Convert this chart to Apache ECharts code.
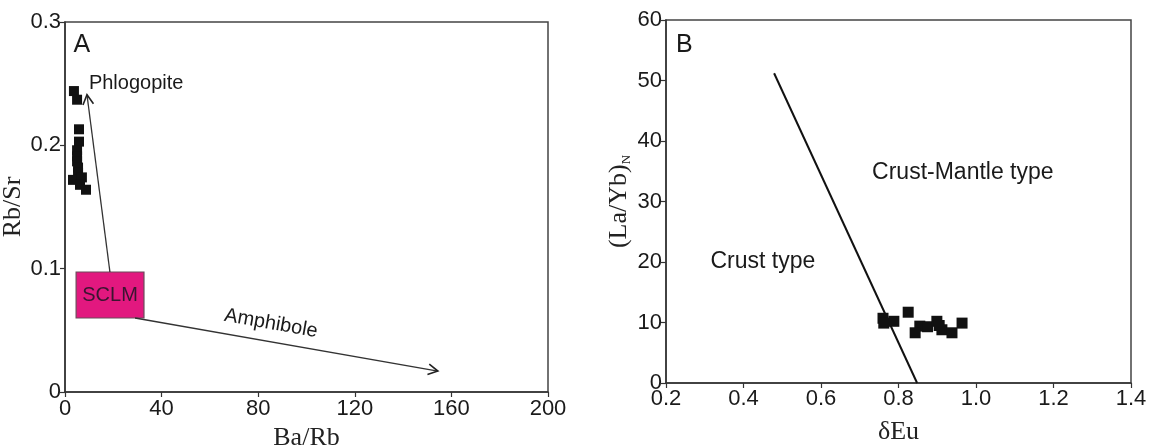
<!DOCTYPE html>
<html>
<head>
<meta charset="utf-8">
<script src="https://cdn.jsdelivr.net/npm/echarts@6/dist/echarts.min.js"></script>
<style>
html,body{margin:0;padding:0;background:#fff;}
#chart{width:1150px;height:448px;}
</style>
</head>
<body>
<div id="chart"></div>
<script>
// ---------- Panel A data: Ba/Rb vs Rb/Sr ----------
const ticksAX = [0, 40, 80, 120, 160, 200];
const ticksAY = [0, 0.1, 0.2, 0.3];
const samplesA_BaRb = [3.7, 5.0, 5.8, 5.8, 5.0, 5.0, 5.0, 5.4, 5.4, 3.3, 7.0, 6.2, 8.7];
const samplesA_RbSr = [0.244, 0.237, 0.213, 0.203, 0.196, 0.191, 0.187, 0.182, 0.178, 0.172, 0.174, 0.168, 0.164];
// SCLM field [x1, y1, x2, y2]
const sclmBox = [4.6, 0.0973, 32.7, 0.060];
// vectors [xStart, yStart, xEnd, yEnd]
const phlogopiteVector = [18.6, 0.0973, 9.1, 0.241];
const amphiboleVector = [29, 0.060, 154.4, 0.017];

// ---------- Panel B data: dEu vs (La/Yb)N ----------
const ticksBX = [0.2, 0.4, 0.6, 0.8, 1.0, 1.2, 1.4];
const ticksBY = [0, 10, 20, 30, 40, 50, 60];
const samplesB_dEu = [0.760, 0.762, 0.788, 0.825, 0.855, 0.843, 0.875, 0.899, 0.912, 0.938, 0.964, 0.905];
const samplesB_LaYbN = [10.7, 9.9, 10.2, 11.7, 9.4, 8.3, 9.3, 10.2, 8.8, 8.3, 9.9, 9.5];
// crust / crust-mantle boundary
const boundaryDEu = [0.479, 0.848];
const boundaryLaYb = [51.2, 0];

// ---------- annotation texts (anchored in data coordinates) ----------
const notesA = [
  {text: 'A', at: [3.5, 0.281], size: 25, align: 'left', rot: 0},
  {text: 'Phlogopite', at: [9.9, 0.250], size: 20, align: 'left', rot: 0},
  {text: 'Amphibole', at: [85.3, 0.0555], size: 20, align: 'center', rot: -10}
];
const notesB = [
  {text: 'B', at: [0.226, 55.9], size: 25, align: 'left', rot: 0},
  {text: 'Crust-Mantle type', at: [0.966, 34.7], size: 23, align: 'center', rot: 0},
  {text: 'Crust type', at: [0.45, 20.0], size: 23, align: 'center', rot: 0}
];

const SANS = '"Liberation Sans", Arial, Helvetica, sans-serif';
const SERIF = '"Liberation Serif", "Times New Roman", serif';

function zip(a, b) { return a.map((v, i) => [v, b[i]]); }

function fmt(ticks, digits) {
  return function (v) {
    for (const t of ticks) if (Math.abs(t - v) < 1e-9) return t === 0 ? '0' : t.toFixed(digits);
    return '';
  };
}

function labelStyle(ticks, digits, margin) {
  return {color: '#1a1a1a', fontFamily: SANS, fontSize: 22, margin: margin, formatter: fmt(ticks, digits)};
}

function axisCommon() {
  return {
    axisLine: {show: true, onZero: false, lineStyle: {color: '#333', width: 1.5}},
    axisTick: {show: true, inside: false, length: 5, lineStyle: {color: '#333', width: 1.2}},
    splitLine: {show: false},
    nameLocation: 'middle',
    nameTextStyle: {color: '#222', fontFamily: SERIF, fontSize: 26}
  };
}

function arrowSeries(xi, yi, vec) {
  return {
    type: 'custom', xAxisIndex: xi, yAxisIndex: yi, silent: true, z: 3,
    encode: {x: [0, 2], y: [1, 3]},
    data: [vec],
    renderItem: function (params, api) {
      const s = api.coord([api.value(0), api.value(1)]);
      const e = api.coord([api.value(2), api.value(3)]);
      const ang = Math.atan2(e[1] - s[1], e[0] - s[0]);
      const L = 11, W = 0.5;
      const p1 = [e[0] - L * Math.cos(ang - W), e[1] - L * Math.sin(ang - W)];
      const p2 = [e[0] - L * Math.cos(ang + W), e[1] - L * Math.sin(ang + W)];
      return {type: 'group', children: [
        {type: 'line', shape: {x1: s[0], y1: s[1], x2: e[0], y2: e[1]}, style: {stroke: '#333', lineWidth: 1.3, fill: null}},
        {type: 'polyline', shape: {points: [p1, e, p2]}, style: {stroke: '#222', lineWidth: 1.6, fill: null}}
      ]};
    }
  };
}

function notesSeries(xi, yi, notes) {
  return {
    type: 'custom', xAxisIndex: xi, yAxisIndex: yi, silent: true, z: 5,
    data: notes.map(n => n.at),
    renderItem: function (params, api) {
      const n = notes[params.dataIndex];
      const p = api.coord([api.value(0), api.value(1)]);
      return {
        type: 'text', x: p[0], y: p[1], rotation: n.rot * Math.PI / 180,
        style: {text: n.text, fill: '#1a1a1a', font: n.size + 'px ' + SANS,
                textAlign: n.align, textVerticalAlign: 'middle'}
      };
    }
  };
}

const chart = echarts.init(document.getElementById('chart'), null, {renderer: 'canvas'});

const option = {
  backgroundColor: '#fff',
  animation: false,
  grid: [
    {left: 65, right: 602, top: 22, bottom: 56, show: true, borderColor: '#444', borderWidth: 1.5, containLabel: false, outerBoundsMode: 'none'},
    {left: 666, right: 19, top: 20, bottom: 65, show: true, borderColor: '#444', borderWidth: 1.5, containLabel: false, outerBoundsMode: 'none'}
  ],
  xAxis: [
    Object.assign(axisCommon(), {
      gridIndex: 0, type: 'value', min: ticksAX[0], max: ticksAX[ticksAX.length - 1], interval: 40,
      name: 'Ba/Rb', nameGap: 33,
      axisLabel: labelStyle(ticksAX, 0, 6)
    }),
    Object.assign(axisCommon(), {
      gridIndex: 1, type: 'value', min: ticksBX[0], max: ticksBX[ticksBX.length - 1], interval: 0.2,
      name: 'δEu', nameGap: 36,
      axisLabel: labelStyle(ticksBX, 1, 5)
    })
  ],
  yAxis: [
    Object.assign(axisCommon(), {
      gridIndex: 0, type: 'value', min: ticksAY[0], max: ticksAY[ticksAY.length - 1], interval: 0.1,
      name: 'Rb/Sr', nameGap: 32,
      axisLabel: labelStyle(ticksAY, 1, 4)
    }),
    Object.assign(axisCommon(), {
      gridIndex: 1, type: 'value', min: ticksBY[0], max: ticksBY[ticksBY.length - 1], interval: 10,
      name: '(La/Yb){sub|N}', nameGap: 33,
      nameTextStyle: {color: '#222', fontFamily: SERIF, fontSize: 26,
        rich: {sub: {fontFamily: SERIF, fontSize: 13, color: '#222', padding: [14, 0, 0, 0]}}},
      axisLabel: labelStyle(ticksBY, 0, 4)
    })
  ],
  series: [
    // SCLM field
    {
      type: 'custom', xAxisIndex: 0, yAxisIndex: 0, silent: true, z: 2,
      encode: {x: [0, 2], y: [1, 3]},
      data: [sclmBox],
      renderItem: function (params, api) {
        const a = api.coord([api.value(0), api.value(1)]);
        const b = api.coord([api.value(2), api.value(3)]);
        const x = Math.min(a[0], b[0]), y = Math.min(a[1], b[1]);
        const w = Math.abs(b[0] - a[0]), h = Math.abs(b[1] - a[1]);
        return {type: 'group', children: [
          {type: 'rect', shape: {x: x, y: y, width: w, height: h},
           style: {fill: '#E2187F', stroke: '#6b4a5a', lineWidth: 1.2}},
          {type: 'text', x: x + w / 2, y: y + h / 2,
           style: {text: 'SCLM', fill: '#3a1530', font: '20px ' + SANS, textAlign: 'center', textVerticalAlign: 'middle'}}
        ]};
      }
    },
    arrowSeries(0, 0, phlogopiteVector),
    arrowSeries(0, 0, amphiboleVector),
    {
      type: 'scatter', xAxisIndex: 0, yAxisIndex: 0, symbol: 'rect', symbolSize: 10, z: 4,
      itemStyle: {color: '#111', opacity: 1}, data: zip(samplesA_BaRb, samplesA_RbSr)
    },
    notesSeries(0, 0, notesA),
    // Panel B
    {
      type: 'line', xAxisIndex: 1, yAxisIndex: 1, symbol: 'none', silent: true, z: 3,
      lineStyle: {color: '#111', width: 2}, data: zip(boundaryDEu, boundaryLaYb)
    },
    {
      type: 'scatter', xAxisIndex: 1, yAxisIndex: 1, symbol: 'rect', symbolSize: 11, z: 4,
      itemStyle: {color: '#111', opacity: 1}, data: zip(samplesB_dEu, samplesB_LaYbN)
    },
    notesSeries(1, 1, notesB)
  ]
};
chart.setOption(option);
</script>
</body>
</html>
